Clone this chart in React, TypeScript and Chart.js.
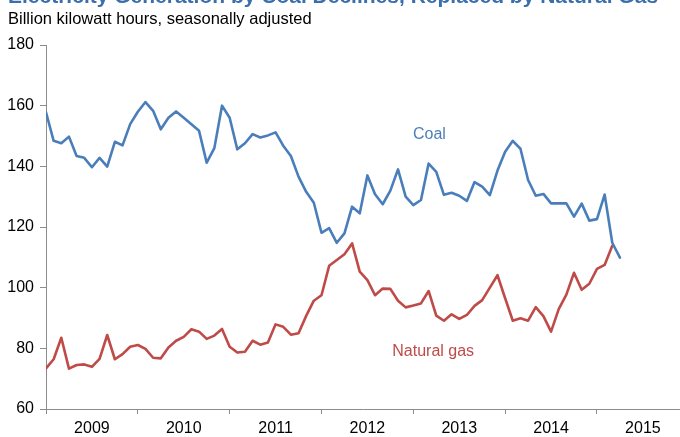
import React, { useEffect, useRef } from "react";
import { Chart, registerables } from "chart.js";

Chart.register(...registerables);

// Monthly values, Jan 2009 onward (billion kWh, seasonally adjusted)
const coal = [
  157.8, 148.4, 147.6, 149.8, 143.4, 142.8, 139.7, 142.8, 139.9, 148.1, 146.9, 153.9,
  158.0, 161.2, 158.3, 152.2, 156.0, 158.1, 156.0, 153.9, 151.7, 141.2, 146.0, 160.0,
  156.0, 145.6, 147.6, 150.6, 149.5, 150.2, 151.2, 146.8, 143.4, 136.6, 131.6, 128.0,
  118.1, 119.6, 114.8, 117.9, 126.7, 124.5, 137.0, 130.8, 127.5, 132.0, 139.0, 130.0,
  127.2, 128.9, 140.9, 138.2, 130.6, 131.3, 130.3, 128.6, 134.8, 133.3, 130.5, 138.6,
  144.8, 148.4, 145.8, 135.5, 130.3, 130.9, 127.8, 127.8, 127.8, 123.4, 127.7, 122.1,
  122.6, 130.7, 114.8, 109.9,
];
const naturalGas = [
  73.4, 76.4, 83.5, 73.3, 74.5, 74.7, 73.9, 76.5, 84.4, 76.4, 78.1, 80.5,
  81.1, 79.8, 76.9, 76.7, 80.3, 82.5, 83.8, 86.3, 85.5, 83.1, 84.2, 86.4,
  80.5, 78.6, 78.9, 82.5, 81.2, 81.9, 87.9, 87.1, 84.5, 85.0, 90.7, 95.7,
  97.5, 107.2, 109.1, 111.0, 114.6, 105.3, 102.5, 97.5, 99.7, 99.6, 95.7, 93.5,
  94.1, 94.8, 98.9, 90.8, 89.1, 91.2, 89.7, 91.0, 94.0, 95.9, 100.0, 104.1,
  96.5, 89.1, 89.9, 89.1, 93.6, 90.6, 85.5, 92.9, 97.7, 104.9, 99.3, 101.3,
  106.2, 107.5, 113.8,
];
const years = ["2009", "2010", "2011", "2012", "2013", "2014", "2015"];
const yTicks = [60, 80, 100, 120, 140, 160, 180];

const TITLE = "Electricity Generation by Coal Declines, Replaced by Natural Gas";
const SUBTITLE = "Billion kilowatt hours, seasonally adjusted";
const COAL_LABEL = "Coal";
const GAS_LABEL = "Natural gas";
// label anchor points in data units (month index, value)
const coalLabelAt = [50.1, 150.3];
const gasLabelAt = [50.6, 78.8];

const X_MAX = 82.85;
const FONT = '"Liberation Sans", Arial, Helvetica, sans-serif';
const COAL_COLOR = "#4a7ebb";
const GAS_COLOR = "#be4b48";
const AXIS_COLOR = "#8c8c8c";
const TITLE_COLOR = "#3b6fac";

const textPlugin = {
  id: "texts",
  afterDraw(chart: any) {
    const { ctx } = chart;
    const xs = chart.scales.x;
    const ys = chart.scales.y;
    ctx.save();
    ctx.textAlign = "left";
    ctx.textBaseline = "alphabetic";
    ctx.fillStyle = TITLE_COLOR;
    ctx.font = `bold 21px ${FONT}`;
    ctx.fillText(TITLE, 8, 3);
    ctx.fillStyle = "#000";
    ctx.font = `16.5px ${FONT}`;
    ctx.fillText(SUBTITLE, 8, 24);
    ctx.font = `16px ${FONT}`;
    ctx.textAlign = "center";
    ctx.textBaseline = "middle";
    ctx.fillStyle = COAL_COLOR;
    ctx.fillText(COAL_LABEL, xs.getPixelForValue(coalLabelAt[0]), ys.getPixelForValue(coalLabelAt[1]));
    ctx.fillStyle = GAS_COLOR;
    ctx.fillText(GAS_LABEL, xs.getPixelForValue(gasLabelAt[0]), ys.getPixelForValue(gasLabelAt[1]));
    ctx.restore();
  },
};

export default function App() {
  const ref = useRef<HTMLCanvasElement | null>(null);
  useEffect(() => {
    if (!ref.current) return;
    const xTickVals: number[] = [];
    for (let v = 0; v <= years.length * 12 - 6; v += 6) xTickVals.push(v);
    const chart = new Chart(ref.current, {
      type: "line",
      data: {
        datasets: [
          {
            label: COAL_LABEL,
            data: coal.map((v, i) => ({ x: i, y: v })),
            borderColor: COAL_COLOR,
            borderWidth: 2.6,
            pointRadius: 0,
            tension: 0,
            borderJoinStyle: "round",
            borderCapStyle: "round",
          },
          {
            label: GAS_LABEL,
            data: naturalGas.map((v, i) => ({ x: i, y: v })),
            borderColor: GAS_COLOR,
            borderWidth: 2.6,
            pointRadius: 0,
            tension: 0,
            borderJoinStyle: "round",
            borderCapStyle: "round",
          },
        ],
      },
      options: {
        animation: false,
        responsive: false,
        devicePixelRatio: 1,
        layout: { padding: { top: 45, left: 0, right: 0, bottom: 0 } },
        plugins: { legend: { display: false }, tooltip: { enabled: false }, title: { display: false } },
        scales: {
          x: {
            type: "linear",
            min: 0,
            max: X_MAX,
            afterBuildTicks: (s: any) => {
              s.ticks = xTickVals.map((v) => ({ value: v }));
            },
            afterFit: (s: any) => {
              s.height = 28;
            },
            ticks: {
              autoSkip: false,
              maxRotation: 0,
              padding: 5,
              color: "#000",
              font: { size: 16, family: FONT },
              callback: (v: any) => (v % 12 === 6 ? years[(v - 6) / 12] : ""),
            },
            grid: {
              drawOnChartArea: false,
              drawTicks: true,
              tickLength: 5,
              color: (c: any) => (c.tick && c.tick.value % 12 === 0 ? AXIS_COLOR : "rgba(0,0,0,0)"),
            },
            border: { color: AXIS_COLOR, width: 1 },
          },
          y: {
            type: "linear",
            min: yTicks[0],
            max: yTicks[yTicks.length - 1],
            afterBuildTicks: (s: any) => {
              s.ticks = yTicks.map((v) => ({ value: v }));
            },
            afterFit: (s: any) => {
              s.width = 46;
            },
            ticks: {
              padding: 6,
              color: "#000",
              font: { size: 16, family: FONT },
            },
            grid: { drawOnChartArea: false, drawTicks: true, tickLength: 6, color: AXIS_COLOR },
            border: { color: AXIS_COLOR, width: 1 },
          },
        },
      },
      plugins: [textPlugin],
    } as any);
    return () => chart.destroy();
  }, []);
  return (
    <div style={{ position: "absolute", left: 0, top: 0, width: 680, height: 437, background: "#fff" }}>
      <canvas ref={ref} width={680} height={437} style={{ display: "block", width: 680, height: 437 }} />
    </div>
  );
}
